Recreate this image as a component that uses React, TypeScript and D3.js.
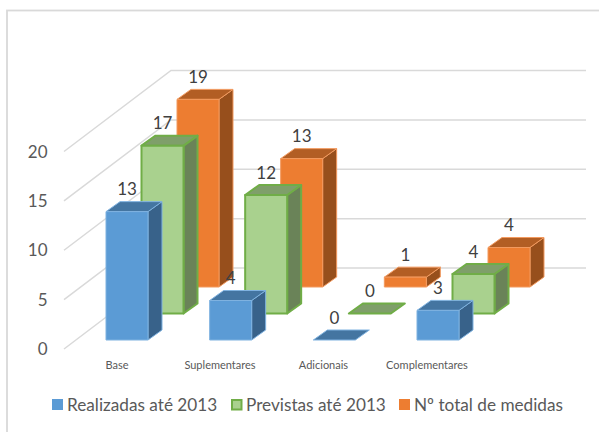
import React from "react";
import * as d3 from "d3";

const categories = ["Base", "Suplementares", "Adicionais", "Complementares"];
const realizadas = [13, 4, 0, 3];
const previstas = [17, 12, 0, 4];
const totais = [19, 13, 1, 4];
const ticks = [0, 5, 10, 15, 20];
const seriesNames = ["Realizadas até 2013", "Previstas até 2013", "Nº total de medidas"];

const palettes = [
  { front: "#5B9BD5", top: "#4475A1", side: "#38628A", stroke: "#7FB2E0", sw: 1 },
  { front: "#A9D18E", top: "#7F9F6A", side: "#6A8358", stroke: "#70AD47", sw: 2 },
  { front: "#ED7D31", top: "#B25E24", side: "#974F1C", stroke: "#F29A5F", sw: 1 },
];
const seriesValues = [realizadas, previstas, totais];

const x0 = d3.scaleLinear().domain([0, 3]).range([106, 417]);
const y = d3.scaleLinear().domain([0, 20]).range([0, 197.5]);
const seriesDx = d3.scaleLinear().domain([0, 2]).range([0, 71]);
const seriesBase = d3.scaleLinear().domain([0, 2]).range([340, 287]);
const barW = 42;
const depthX = 14;
const depthY = 10;

const gridFront = { x: 64, y: 349 };
const gridBack = { x: 171, y: 268 };
const gridRight = 586;
const gridC = "#D9D9D9";
const textC = "#595959";
const labelC = "#404040";

const poly = (pts: number[][]) => pts.map((p) => p.join(",")).join(" ");

function Bar({ c, s, v }: { c: number; s: number; v: number }) {
  const p = palettes[s];
  const l = x0(c) + seriesDx(s);
  const r = l + barW;
  const b = seriesBase(s);
  const t = b - y(v);
  return (
    <g stroke={p.stroke} strokeWidth={p.sw} strokeLinejoin="round">
      {v > 0 && <polygon points={poly([[r, t], [r + depthX, t - depthY], [r + depthX, b - depthY], [r, b]])} fill={p.side} />}
      <polygon points={poly([[l, t], [l + depthX, t - depthY], [r + depthX, t - depthY], [r, t]])} fill={p.top} />
      {v > 0 && <rect x={l} y={t} width={barW} height={b - t} fill={p.front} />}
    </g>
  );
}

export default function App() {
  const order: { c: number; s: number }[] = [];
  for (let s = 2; s >= 0; s--) for (let c = 0; c < categories.length; c++) order.push({ c, s });
  const legend = [
    { x: 52, tx: 67 },
    { x: 231, tx: 246 },
    { x: 399, tx: 414 },
  ];
  const catX = [117, 220, 323.5, 427];
  return (
    <svg width={599} height={432} style={{ position: "absolute", left: 0, top: 0, background: "#fff" }} fontFamily="Lato, sans-serif">
      <rect x={7} y={10.5} width={700} height={450} fill="#fff" stroke={gridC} strokeWidth={1.8} />
      {ticks.map((t) => {
        const h = y(t);
        return (
          <g key={t}>
            <polyline
              points={poly([[gridFront.x, gridFront.y - h], [gridBack.x, gridBack.y - h], [gridRight, gridBack.y - h]])}
              fill="none" stroke={gridC} strokeWidth={1.5}
            />
            <text x={47.5} y={gridFront.y - h + 6} textAnchor="end" fontSize={17} fill={textC}>{t}</text>
          </g>
        );
      })}
      {order.map(({ c, s }) => <Bar key={`${c}-${s}`} c={c} s={s} v={seriesValues[s][c]} />)}
      {order.map(({ c, s }) => {
        const v = seriesValues[s][c];
        return (
          <text key={`l${c}-${s}`} x={x0(c) + seriesDx(s) + barW / 2} y={seriesBase(s) - y(v) - 16.5} textAnchor="middle" fontSize={17} fill={labelC}>{v}</text>
        );
      })}
      {categories.map((n, i) => (
        <text key={n} x={catX[i]} y={368.5} textAnchor="middle" fontSize={11} fill={textC}>{n}</text>
      ))}
      {seriesNames.map((n, i) => (
        <g key={n}>
          <rect x={legend[i].x + (i === 1 ? 1 : 0)} y={i === 1 ? 400 : 399} width={i === 1 ? 9.5 : 11} height={i === 1 ? 9.5 : 11} fill={palettes[i].front} stroke={i === 1 ? palettes[i].stroke : "none"} strokeWidth={2} />
          <text x={legend[i].tx} y={410.5} fontSize={17.2} fill={textC}>{n}</text>
        </g>
      ))}
    </svg>
  );
}
